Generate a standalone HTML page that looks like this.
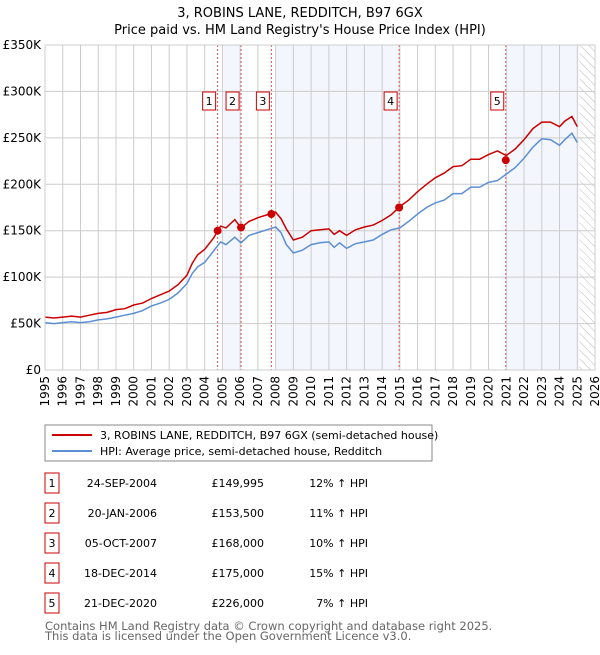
<!DOCTYPE html>
<html><head><meta charset="utf-8"><style>
body{margin:0;background:#fff;}
svg{font-family:"DejaVu Sans","Liberation Sans",sans-serif;}
</style></head><body>
<svg id="c" width="600" height="650" xmlns="http://www.w3.org/2000/svg">
<defs><pattern id="hatch" width="6" height="6" patternUnits="userSpaceOnUse" patternTransform="rotate(-45)"><line x1="0" y1="0" x2="0" y2="6" stroke="#bbb" stroke-width="1"/></pattern></defs>
<text x="300" y="17" text-anchor="middle" font-size="13">3, ROBINS LANE, REDDITCH, B97 6GX</text>
<text x="300" y="34" text-anchor="middle" font-size="13">Price paid vs. HM Land Registry's House Price Index (HPI)</text>
<g id="plot"></g>
<rect x="45" y="425" width="387" height="36" fill="#fff" stroke="#888"/>
<line x1="52" y1="435" x2="92" y2="435" stroke="#cc0000" stroke-width="2"/>
<text x="100" y="439" font-size="11">3, ROBINS LANE, REDDITCH, B97 6GX (semi-detached house)</text>
<line x1="52" y1="451" x2="92" y2="451" stroke="#5b8fd4" stroke-width="2"/>
<text x="100" y="455" font-size="11">HPI: Average price, semi-detached house, Redditch</text>
<g id="table"></g>
<text x="45" y="630" font-size="11.5" fill="#666">Contains HM Land Registry data © Crown copyright and database right 2025.</text>
<text x="45" y="640" font-size="11.5" fill="#666">This data is licensed under the Open Government Licence v3.0.</text>
</svg>
<script>
const hpiDates=[1995,1995.5,1996,1996.5,1997,1997.5,1998,1998.5,1999,1999.5,2000,2000.5,2001,2001.5,2002,2002.5,2003,2003.3,2003.6,2004,2004.5,2004.9,2005.2,2005.7,2006.05,2006.5,2007,2007.5,2008,2008.3,2008.6,2009,2009.5,2010,2010.5,2011,2011.3,2011.6,2012,2012.5,2013,2013.5,2014,2014.5,2015,2015.5,2016,2016.5,2017,2017.5,2018,2018.5,2019,2019.5,2020,2020.5,2021,2021.5,2022,2022.5,2023,2023.5,2024,2024.3,2024.7,2025.0];
const hpiValues=[51,50,51,52,51,52,54,55,57,59,61,64,69,72,76,83,93,104,111,116,128,138,135,143,137,145,148,151,154,148,135,126,129,135,137,138,132,137,131,136,138,140,146,151,153,160,168,175,180,183,190,190,197,197,202,204,211,218,228,240,249,248,242,248,255,245];
const propValues=[57,56,57,58,57,59,61,62,65,66,70,72,77,81,85,92,102,115,124,130,142,155,153,162,153,160,164,167,170,163,152,140,143,150,151,152,146,150,145,151,154,156,161,167,176,183,192,200,207,212,219,220,227,227,232,236,231,238,248,260,267,267,262,268,273,262];
const saleDates=[2004.73,2006.05,2007.76,2014.96,2020.97];
const salePrices=[149.995,153.5,168,175,226];
const saleLabels=["1","2","3","4","5"];
const saleDateText=["24-SEP-2004","20-JAN-2006","05-OCT-2007","18-DEC-2014","21-DEC-2020"];
const salePriceText=["£149,995","£153,500","£168,000","£175,000","£226,000"];
const saleHpiText=["12% ↑ HPI","11% ↑ HPI","10% ↑ HPI","15% ↑ HPI","7% ↑ HPI"];
const shadeRanges=[[2005.0,2006.05],[2008.0,2014.96],[2021.0,2025.1]];
const yTicks=[0,50,100,150,200,250,300,350];
const yTickLabels=["£0","£50K","£100K","£150K","£200K","£250K","£300K","£350K"];
const xStart=1995,xEnd=2026,hatchStart=2025.13;
const L=45,R=595,T=45,B=370;
const X=v=>L+(v-xStart)/(xEnd-xStart)*(R-L);
const Y=v=>B-v/350*(B-T);
const NS="http://www.w3.org/2000/svg";
const plot=document.getElementById('plot');
function mk(tag,attrs,parent){const e=document.createElementNS(NS,tag);for(const k in attrs)e.setAttribute(k,attrs[k]);(parent||plot).appendChild(e);return e;}
let e=mk('rect',{x:L,y:T,width:R-L,height:B-T,fill:'#fff'});


shadeRanges.forEach(r=>{const s=mk('rect',{x:X(r[0]),y:T,width:X(r[1])-X(r[0]),height:B-T,fill:'#f3f6fd'});

});
e=mk('rect',{x:X(hatchStart),y:T,width:R-X(hatchStart),height:B-T,fill:'url(#hatch)'});


for(let yr=xStart;yr<=xEnd;yr++){const g=mk('line',{x1:X(yr),x2:X(yr),y1:T,y2:B,stroke:'#ccc'});


const t=mk('text',{x:0,y:0,'font-size':12,'text-anchor':'end',transform:`translate(${X(yr)+4},${B+6}) rotate(-90)`});t.textContent=yr;

}
yTicks.forEach((v,i)=>{const g=mk('line',{x1:L,x2:R,y1:Y(v),y2:Y(v),stroke:'#ccc'});


const t=mk('text',{x:L-4,y:Y(v)+4,'font-size':12,'text-anchor':'end'});t.textContent=yTickLabels[i];

});
saleDates.forEach((d,i)=>{const l=mk('line',{x1:X(d),x2:X(d),y1:T,y2:B,stroke:'#e05555','stroke-dasharray':'2,2'});

});
const path=(vals)=>hpiDates.map((d,i)=>(i?'L':'M')+X(d).toFixed(1)+','+Y(vals[i]).toFixed(1)).join('');
e=mk('path',{d:path(hpiValues),fill:'none',stroke:'#5b8fd4','stroke-width':1.5});


e=mk('path',{d:path(propValues),fill:'none',stroke:'#cc0000','stroke-width':1.5});


saleDates.forEach((d,i)=>{const c=mk('circle',{cx:X(d),cy:Y(salePrices[i]),r:4,fill:'#cc0000'});


const b=mk('rect',{x:X(d)-15,y:92,width:13,height:18,fill:'#fff',stroke:'#cc0000'});


const t=mk('text',{x:X(d)-8.5,y:105,'font-size':11,'text-anchor':'middle'});t.textContent=saleLabels[i];

});
mk('rect',{x:L,y:T,width:R-L,height:B-T,fill:'none',stroke:'#ccc'});
const tbl=document.getElementById('table');
saleLabels.forEach((s,i)=>{const cy=483+i*30;
const b=mk('rect',{x:45,y:cy-10,width:14,height:20,fill:'#fff',stroke:'#cc0000'},tbl);


const cols=[[52,'middle',s,'table-row-number'],[157,'end',saleDateText[i],'table-row-date'],[264,'end',salePriceText[i],'table-row-price'],[368,'end',saleHpiText[i],'table-row-hpi']];
cols.forEach(c=>{const t=mk('text',{x:c[0],y:cy+4,'font-size':11,'text-anchor':c[1]},tbl);t.textContent=c[2];

});});
</script>
</body></html>
